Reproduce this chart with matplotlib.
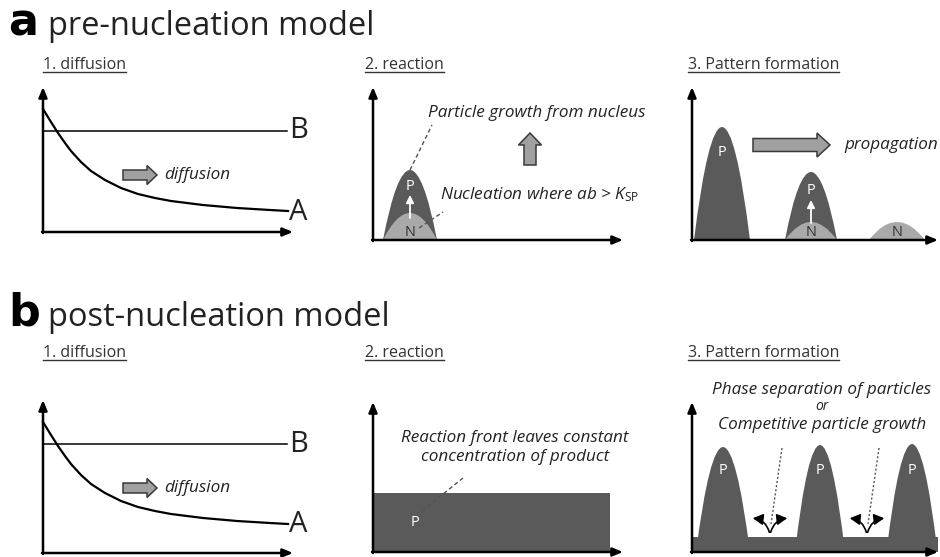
import matplotlib
matplotlib.use("Agg")
import matplotlib.pyplot as plt
from matplotlib.path import Path
from matplotlib.patches import PathPatch, FancyArrow, FancyArrowPatch, Rectangle

plt.rcParams['font.family'] = ['Open Sans', 'DejaVu Sans']
plt.rcParams['mathtext.fontset'] = 'custom'
plt.rcParams['mathtext.rm'] = 'Open Sans'
plt.rcParams['mathtext.it'] = 'Open Sans:italic'

W, H = 940, 557

# values, in px from the corner of each little plot
# 1. diffusion: A falls off, B stays flat
pos_A = [0, 8, 15, 22, 28, 38, 48, 62, 78, 95, 112, 128, 160, 194, 227, 245]
conc_A = [123, 110, 99, 89, 81, 70, 61, 52, 44, 38, 34, 31, 27, 24, 22, 21]
conc_B = 101

# a 2. reaction: one nucleus with its particle
a2_centre = 37
a2_half = 27
a2_N = 27
a2_P = 70

# a 3. pattern formation
a3_centres = [30, 119, 205]
a3_half = [28, 26, 28]
a3_P = [113, 68, 0]
a3_N = [0, 18, 18]

# b 2. reaction: flat product
b2_front = 237
b2_level = 59

# b 3. pattern formation
b3_centres = [31, 128, 220]
b3_half = [27, 25, 25.5]
b3_P = [105, 107, 108]
b3_base = 15
b3_gaps = [78, 175]

DARK = '#5a5a5a'
LIGHT = '#a9a9a9'
ARROW = '#a0a0a0'
EDGE = '#3a3a3a'
TXT = '#222222'
NOTE = 12.3

fig = plt.figure(figsize=(W / 100, H / 100), dpi=100)
bg = fig.add_axes([0, 0, 1, 1])
bg.set_xlim(0, W)
bg.set_ylim(H, 0)
bg.axis('off')


def panel(ox, oy):
    # 1 unit = 1 px, origin where the two axis arrows meet
    l, r, b, t = -40, 270, -20, 180
    ax = fig.add_axes([(ox + l) / W, (H - oy + b) / H, (r - l) / W, (t - b) / H])
    ax.set_xlim(l, r)
    ax.set_ylim(b, t)
    ax.axis('off')
    return ax


def axis_arrows(ax, xend, ytop, y0=0):
    kw = dict(arrowstyle='-|>,head_length=0.6,head_width=0.25', color='black',
              lw=1.8, shrinkA=0, shrinkB=0, mutation_scale=10)
    ax.annotate('', xy=(0, ytop), xytext=(0, y0 - 1), arrowprops=kw, annotation_clip=False)
    ax.annotate('', xy=(xend, y0), xytext=(-1, y0), arrowprops=kw, annotation_clip=False)


def hump(ax, c, half, h, color, base=0):
    verts = [(c - half, base), (c, base + 2 * h), (c + half, base), (c - half, base)]
    codes = [Path.MOVETO, Path.CURVE3, Path.CURVE3, Path.CLOSEPOLY]
    ax.add_patch(PathPatch(Path(verts, codes), fc=color, ec='none'))


def block_arrow(ax, x, y, dx, dy, width, head_w, head_l):
    ax.add_patch(FancyArrow(x, y, dx, dy, width=width, head_width=head_w, head_length=head_l,
                            length_includes_head=True, fc=ARROW, ec=EDGE, lw=1.1))


def dashed(ax, p0, p1, ls=(0, (3, 2))):
    ax.plot([p0[0], p1[0]], [p0[1], p1[1]], color='#555555', lw=1, ls=ls)


def white_arrow(ax, x, y0, y1):
    ax.annotate('', xy=(x, y1), xytext=(x, y0),
                arrowprops=dict(arrowstyle='-|>,head_length=0.5,head_width=0.25', color='white',
                                lw=1.3, shrinkA=0, shrinkB=0, mutation_scale=9))


def label(ax, x, y, s, color='white'):
    ax.text(x, y, s, color=color, fontsize=10.5, ha='center', va='center')


def diffusion_panel(ax):
    ax.plot(pos_A, conc_A, color='black', lw=1.6, solid_joinstyle='round')
    ax.plot([0, 244], [conc_B, conc_B], color='black', lw=1.1)
    ax.text(246, conc_B, 'B', fontsize=21, va='center', ha='left', color=TXT)
    ax.text(246, conc_A[-1] - 1, 'A', fontsize=21, va='center', ha='left', color=TXT)
    block_arrow(ax, 80, 57, 34, 0, 10, 19, 10)
    ax.text(121, 57, 'diffusion', fontsize=NOTE, style='italic', va='center', color=TXT)


# titles
bg.text(8, 35, 'a', fontsize=32, fontweight='bold', family='DejaVu Sans', va='baseline')
bg.text(48, 35, 'pre-nucleation model', fontsize=23.5, va='baseline', color=TXT)
bg.text(8, 326, 'b', fontsize=32, fontweight='bold', family='DejaVu Sans', va='baseline')
bg.text(48, 326, 'post-nucleation model', fontsize=23.5, va='baseline', color=TXT)

subs = []
for x, y, s in [(43, 69, '1. diffusion'), (365, 69, '2. reaction'), (688, 69, '3. Pattern formation'),
                (43, 357, '1. diffusion'), (365, 357, '2. reaction'), (688, 357, '3. Pattern formation')]:
    subs.append((bg.text(x, y, s, fontsize=11.5, va='baseline', color='#333333'), y))

# a1
ax = panel(43, 232)
axis_arrows(ax, 250, 145)
diffusion_panel(ax)

# a2
ax = panel(373, 240)
axis_arrows(ax, 250, 153)
hump(ax, a2_centre, a2_half, a2_P, DARK)
hump(ax, a2_centre, a2_half, a2_N, LIGHT)
white_arrow(ax, a2_centre, 22, 45)
label(ax, a2_centre, 54, 'P')
label(ax, a2_centre, 8, 'N', '#333333')
dashed(ax, (a2_centre, a2_P), (59, 115))
dashed(ax, (46, 12), (70, 28))
ax.text(55, 127, 'Particle growth from nucleus', fontsize=NOTE, style='italic', va='center', color=TXT)
ax.text(67, 45, r'Nucleation where ab > $K_{\mathrm{SP}}$', fontsize=NOTE, style='italic',
        va='center', color=TXT)
block_arrow(ax, 157, 75, 0, 32, 12, 23, 12)

# a3
ax = panel(692, 240)
axis_arrows(ax, 246, 153)
for c, hw, p, n in zip(a3_centres, a3_half, a3_P, a3_N):
    if p:
        hump(ax, c, hw, p, DARK)
    if n:
        hump(ax, c, hw, n, LIGHT)
        label(ax, c, 7, 'N', '#333333')
label(ax, a3_centres[0], 87, 'P')
label(ax, a3_centres[1], 50, 'P')
white_arrow(ax, a3_centres[1], 17, 40)
block_arrow(ax, 61, 95, 77, 0, 13, 24, 13)
ax.text(152, 95, 'propagation', fontsize=NOTE, style='italic', va='center', color=TXT)

# b1 (x axis sits 8 px lower than in a1)
ax = panel(43, 545)
axis_arrows(ax, 250, 145, y0=-8)
diffusion_panel(ax)

# b2
ax = panel(373, 552)
axis_arrows(ax, 250, 150)
ax.add_patch(Rectangle((1, 0), b2_front - 1, b2_level, fc=DARK, ec='none'))
label(ax, 42, 30, 'P')
dashed(ax, (49, 41), (90, 74))
ax.text(142, 114, 'Reaction front leaves constant', fontsize=NOTE, style='italic',
        ha='center', va='center', color=TXT)
ax.text(142, 95, 'concentration of product', fontsize=NOTE, style='italic',
        ha='center', va='center', color=TXT)

# b3
ax = panel(692, 552)
axis_arrows(ax, 246, 150)
ax.add_patch(Rectangle((1, 0), 245, b3_base, fc=DARK, ec='none'))
for c, hw, p in zip(b3_centres, b3_half, b3_P):
    hump(ax, c, hw, p, DARK)
    label(ax, c, 82, 'P')
for g in b3_gaps:
    dashed(ax, (g + 12, 104), (g + 1, 28), ls=(0, (1.5, 1.5)))
    for side in (-1, 1):
        ax.add_patch(FancyArrowPatch((g, 17), (g + side * 20, 34),
                                     connectionstyle=f'arc3,rad={-0.4 * side}',
                                     arrowstyle='-|>,head_length=0.55,head_width=0.3',
                                     mutation_scale=11, lw=1.2, color='black'))
ax.text(130, 162, 'Phase separation of particles', fontsize=NOTE, style='italic',
        ha='center', va='center', color=TXT)
ax.text(130, 145, 'or', fontsize=10, style='italic', ha='center', va='center', color=TXT)
ax.text(130, 127, 'Competitive particle growth', fontsize=NOTE, style='italic',
        ha='center', va='center', color=TXT)

# underline the step headings
fig.canvas.draw()
rend = fig.canvas.get_renderer()
for t, y in subs:
    bb = t.get_window_extent(rend)
    bg.plot([bb.x0, bb.x1], [y + 2.5, y + 2.5], color='#333333', lw=1)

fig.savefig('out.png', dpi=100, facecolor='white')
